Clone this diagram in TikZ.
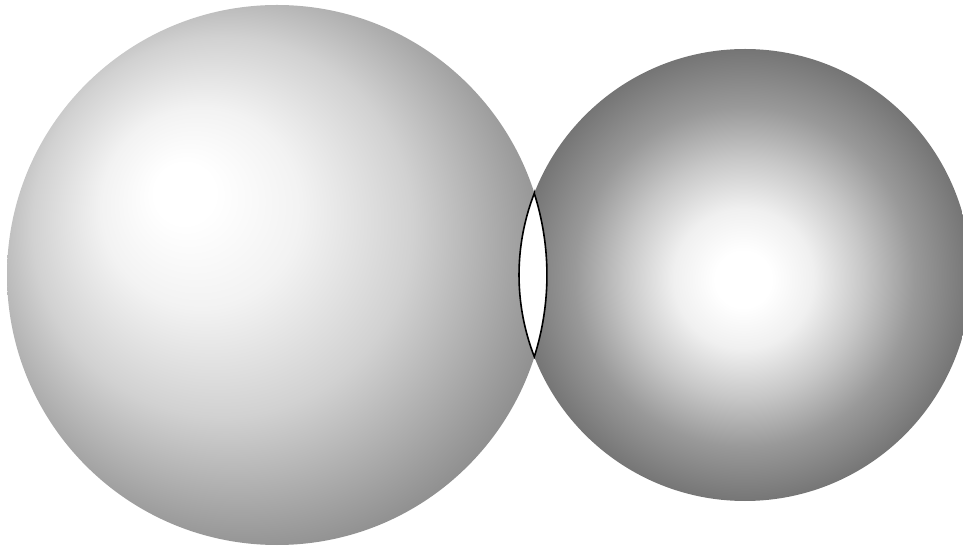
\documentclass[tikz,border=0pt]{standalone}
\pgfdeclareradialshading{leftball}{\pgfpoint{-100pt}{88pt}}{%
  color(0pt)=(white);
  color(30pt)=(white);
  color(100pt)=(black!5);
  color(190pt)=(black!18);
  color(280pt)=(black!38);
  color(330pt)=(black!49);
  color(367pt)=(black!55);
  color(400pt)=(black!59);
  color(420pt)=(black!60)}
\pgfdeclareradialshading{rightball}{\pgfpoint{-2pt}{-5pt}}{%
  color(0pt)=(white);
  color(28pt)=(white);
  color(70pt)=(black!6);
  color(120pt)=(black!22);
  color(170pt)=(black!40);
  color(226pt)=(black!54);
  color(260pt)=(black!56)}
\tikzset{
  lensline/.style={draw=black, fill=white, line width=1.6pt, line join=miter},
  shadeholder/.style={inner sep=0pt, outer sep=0pt}
}
\begin{document}
\begin{tikzpicture}[x=1pt,y=1pt]
  \useasboundingbox (0,0) rectangle (963,546);
  \coordinate (L) at (277,271);
  \coordinate (R) at (745,271);
  \begin{scope}
    \clip (L) circle (270);
    \node[shadeholder] (lshade) at (L) {\pgfuseshading{leftball}};
  \end{scope}
  \begin{scope}
    \clip (R) circle (226);
    \node[shadeholder] (rshade) at (R) {\pgfuseshading{rightball}};
  \end{scope}
  \path[lensline] (R) ++(158.8:226) arc[start angle=158.8,end angle=201.2,radius=226]
     arc[start angle=-17.6,end angle=17.6,radius=270] -- cycle;
\end{tikzpicture}
\end{document}
